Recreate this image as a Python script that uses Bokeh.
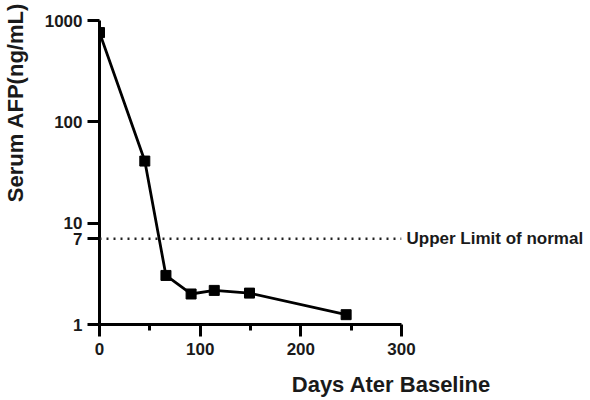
from bokeh.plotting import figure
from bokeh.models import Range1d, FixedTicker, Span, LogAxis, LinearAxis
from bokeh.embed import file_html
from bokeh.resources import INLINE

# Serum AFP measurements over time
days = [0, 45, 66, 91, 114, 149, 245]
afp = [760, 41, 3.05, 2.0, 2.17, 2.04, 1.25]

upper_limit = 7
upper_limit_text = "Upper Limit of normal"
x_title = "Days Ater Baseline"
y_title = "Serum AFP(ng/mL)"
x_ticks = [0, 100, 200, 300]
x_minor_ticks = [50, 150, 250]
y_ticks = [1, 7, 10, 100, 1000]

# where the axis titles sit along their axes (data units)
X_TITLE_AT = 290
Y_TITLE_AT = 155

FONT = "Liberation Sans"
INK = "#1a1a1a"

p = figure(
    width=590, height=400,
    x_range=Range1d(0, 300), y_range=Range1d(1, 1000),
    y_axis_type="log",
    output_backend="svg", toolbar_location=None,
    min_border_left=98, min_border_right=189,
    min_border_top=20, min_border_bottom=76,
)
p.outline_line_color = None
p.grid.visible = False
p.background_fill_color = "white"
p.border_fill_color = "white"

xa = p.xaxis[0]
ya = p.yaxis[0]
xa.ticker = FixedTicker(ticks=x_ticks, minor_ticks=x_minor_ticks)
ya.ticker = FixedTicker(ticks=y_ticks, minor_ticks=[])
ya.major_label_overrides = {t: str(t) for t in y_ticks}

for ax in (xa, ya):
    ax.axis_line_width = 3
    ax.axis_line_color = "black"
    ax.major_tick_line_width = 3
    ax.major_tick_line_color = "black"
    ax.major_tick_in = 0
    ax.major_tick_out = 12
    ax.minor_tick_line_width = 3
    ax.minor_tick_line_color = "black"
    ax.minor_tick_in = 0
    ax.minor_tick_out = 6
    ax.major_label_text_font = FONT
    ax.major_label_text_font_style = "bold"
    ax.major_label_text_font_size = "17px"
    ax.major_label_text_color = INK
xa.major_label_standoff = 6
ya.major_label_standoff = 5


def text_axis(axis, at, text, size, standoff, orientation="horizontal"):
    """A bare axis carrying a single label: used for titles and annotations."""
    axis.ticker = FixedTicker(ticks=[at], minor_ticks=[])
    axis.major_label_overrides = {at: text}
    axis.axis_line_color = None
    axis.major_tick_line_color = None
    axis.minor_tick_line_color = None
    axis.major_tick_in = 0
    axis.major_tick_out = 0
    axis.major_label_standoff = standoff
    axis.major_label_orientation = orientation
    axis.major_label_text_font = FONT
    axis.major_label_text_font_style = "bold"
    axis.major_label_text_font_size = size
    axis.major_label_text_color = INK
    return axis


# Upper limit of normal: dotted reference line, named on the right
p.add_layout(Span(location=upper_limit, dimension="width",
                  line_color="#222222", line_width=2.5, line_dash="2 5"))
p.add_layout(text_axis(LogAxis(), upper_limit, upper_limit_text, "17px", 5), "right")

# AFP series
p.line(days, afp, line_color="black", line_width=2.8)
p.scatter(days, afp, marker="square", size=10, fill_color="black", line_color="black")

# Axis titles
p.add_layout(text_axis(LinearAxis(), X_TITLE_AT, x_title, "22px", 14), "below")
p.add_layout(text_axis(LogAxis(), Y_TITLE_AT, y_title, "22px", 13, "vertical"), "left")

open("out.html", "w").write(file_html(p, INLINE))
